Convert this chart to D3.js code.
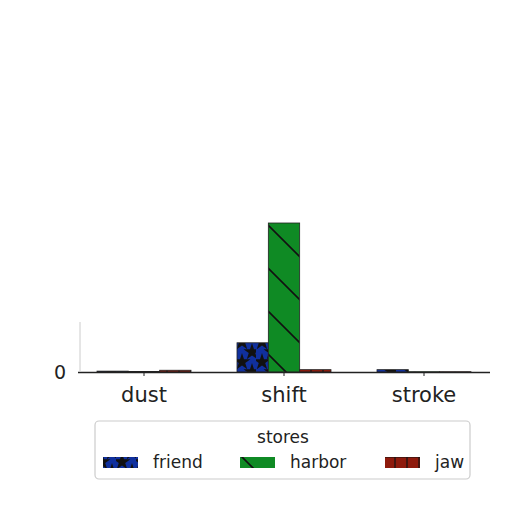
<!DOCTYPE html>
<html>
<head>
<meta charset="utf-8">
<script src="https://cdn.jsdelivr.net/npm/d3@7/dist/d3.min.js"></script>
<style>
  body { margin: 0; background: #fff; }
  text { font-family: "DejaVu Sans", sans-serif; }
</style>
</head>
<body>
<svg width="512" height="512"></svg>
<script>
const categories = ["dust", "shift", "stroke"];
const seriesNames = ["friend", "harbor", "jaw"];
const friend = [0.03, 1.0, 0.08];
const harbor = [0.02, 5.1, 0.01];
const jaw = [0.06, 0.08, 0.01];
const yTicks = [0];
const legendTitle = "stores";

const colors = { friend: "#10309e", harbor: "#0f8a24", jaw: "#8e1a0c" };
const values = { friend: friend, harbor: harbor, jaw: jaw };

const svg = d3.select("svg");
const defs = svg.append("defs");

// hatch patterns
const pStar = defs.append("pattern").attr("id", "hatch-friend")
  .attr("patternUnits", "userSpaceOnUse").attr("width", 20).attr("height", 20)
  .attr("patternTransform", "translate(236,352)");
pStar.append("rect").attr("width", 20).attr("height", 20).attr("fill", colors.friend);
const star = d3.symbol().type(d3.symbolStar).size(90);
[[6, 10], [16, 0], [16, 20]].forEach(function(p) {
  pStar.append("path").attr("d", star()).attr("transform", "translate(" + p[0] + "," + p[1] + ")")
    .attr("fill", "#111");
});

const pDiag = defs.append("pattern").attr("id", "hatch-harbor")
  .attr("patternUnits", "userSpaceOnUse").attr("width", 43).attr("height", 43);
pDiag.append("rect").attr("width", 43).attr("height", 43).attr("fill", colors.harbor);
pDiag.append("path").attr("d", "M-2,-2L45,45M-45,-2L2,45M41,-2L88,45")
  .attr("stroke", "#111").attr("stroke-width", 1.6);

const pPlus = defs.append("pattern").attr("id", "hatch-jaw")
  .attr("patternUnits", "userSpaceOnUse").attr("width", 12).attr("height", 12);
pPlus.append("rect").attr("width", 12).attr("height", 12).attr("fill", colors.jaw);
pPlus.append("path").attr("d", "M11,0V12M0,1H12").attr("stroke", "#111").attr("stroke-width", 1.2);

const x = d3.scaleBand().domain(categories).range([74, 494]);
const xInner = d3.scaleBand().domain(seriesNames).range([0, 94]);
const y = d3.scaleLinear().domain([0, 5.1]).range([372, 223]);

const chart = svg.append("g");

seriesNames.forEach(function(s) {
  chart.selectAll(null)
    .data(categories)
    .enter()
    .append("rect")
    .attr("x", function(d) { return x(d) + x.bandwidth() / 2 - 47 + xInner(s); })
    .attr("y", function(d, i) { return y(values[s][i]); })
    .attr("width", xInner.bandwidth())
    .attr("height", function(d, i) { return y(0) - y(values[s][i]); })
    .attr("fill", "url(#hatch-" + s + ")")
    .attr("stroke", "#222")
    .attr("stroke-width", 0.8);
});

// axes
const xAxis = d3.axisBottom(x).tickSize(4).tickSizeOuter(0);
const gx = chart.append("g").attr("transform", "translate(0,372)").call(xAxis);
gx.select(".domain").attr("d", "M78,0.5H490").attr("stroke", "#222").attr("stroke-width", 1.5);
gx.selectAll(".tick line").attr("stroke", "#222");
gx.selectAll(".tick text").attr("font-size", 21).attr("fill", "#222").attr("dy", "1.1em");

const yAxis = d3.axisLeft(y).tickValues(yTicks).tickFormat(d3.format("d")).tickSize(0).tickPadding(14);
const gy = chart.append("g").attr("transform", "translate(80,0)").call(yAxis);
gy.select(".domain").attr("d", "M0,322V372").attr("stroke", "#ccc").attr("stroke-width", 1);
gy.selectAll(".tick text").attr("font-size", 19).attr("fill", "#222");

// legend
const legend = svg.append("g");
legend.append("rect").attr("x", 95).attr("y", 421).attr("width", 375).attr("height", 58)
  .attr("rx", 4).attr("fill", "#fff").attr("stroke", "#ccc").attr("stroke-width", 1.2);
legend.append("text").attr("x", 283).attr("y", 443).attr("text-anchor", "middle")
  .attr("font-size", 17).attr("fill", "#222").text(legendTitle);
const legendX = d3.scaleOrdinal().domain(seriesNames).range([103, 240, 385]);
seriesNames.forEach(function(s) {
  legend.append("rect").attr("x", legendX(s)).attr("y", 457).attr("width", 35).attr("height", 11)
    .attr("fill", "url(#hatch-" + s + ")");
  legend.append("text").attr("x", legendX(s) + 50).attr("y", 468)
    .attr("font-size", 17).attr("fill", "#222").text(s);
});
</script>
</body>
</html>
